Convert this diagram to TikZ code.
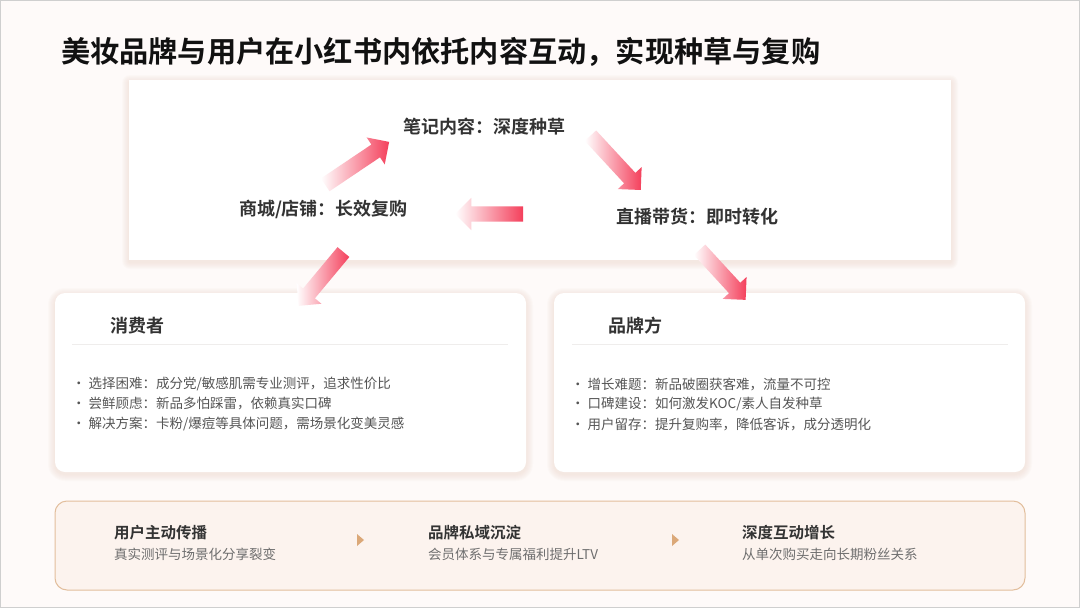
\documentclass[tikz,border=0pt]{standalone}
\usepackage{fontspec}
\setmainfont{Noto Sans CJK SC}[BoldFont={Noto Sans CJK SC Bold}]
\usetikzlibrary{shapes.arrows}

\definecolor{pagebg}{HTML}{FEFAF9}
\definecolor{framegray}{HTML}{CFCFCF}
\definecolor{arrowred}{HTML}{F43F5B}
\definecolor{titleblack}{HTML}{111111}
\definecolor{labelgray}{HTML}{333333}
\definecolor{textgray}{HTML}{555555}
\definecolor{subgray}{HTML}{6E6E6E}
\definecolor{rulegray}{HTML}{EFEDEC}
\definecolor{shadowtint}{HTML}{EBD3C7}
\definecolor{stripfill}{HTML}{FCF3EE}
\definecolor{stripline}{HTML}{E2BE9C}
\definecolor{steptan}{HTML}{DBA878}

% soft warm shadow under a panel: corners, rounding
\newcommand{\softshadow}[5]{%
	\foreach \g in {1,...,7}
		\fill [shadowtint, opacity=0.07, rounded corners=#5+\g] (#1-\g,#2-\g+2) rectangle (#3+\g,#4+\g+2);
}

\tikzset{
	flowarrow/.style={single arrow, inner xsep=0pt, inner ysep=7.5pt, minimum width=32pt, single arrow head extend=8.5pt, single arrow head indent=0pt, left color=white, right color=arrowred, draw=none},
	looplabel/.style={font=\fontsize{18}{22}\selectfont\bfseries, text=labelgray, inner sep=0pt},
	cardtitle/.style={font=\fontsize{18}{22}\selectfont\bfseries, text=labelgray, anchor=west, inner sep=0pt},
	bulletline/.style={font=\fontsize{13.5}{16}\selectfont, text=textgray, anchor=west, inner sep=0pt},
	steptitle/.style={font=\fontsize{15.5}{18}\selectfont\bfseries, text=labelgray, anchor=west, inner sep=0pt},
	stepnote/.style={font=\fontsize{13.5}{16}\selectfont, text=subgray, anchor=west, inner sep=0pt}
}

\begin{document}
\begin{tikzpicture}[x=1pt, y=-1pt]
		\useasboundingbox (0,0) rectangle (1080,608);
		% page background and frame
		\fill [pagebg] (0,0) rectangle (1080,608);
		\draw [framegray, line width=1.2pt] (0.6,0.6) rectangle (1079.4,607.4);

		% heading
		\node [anchor=west, inner sep=0pt, text=titleblack, font=\fontsize{29.2}{34}\selectfont\bfseries] (title) at (61,52) {美妆品牌与用户在小红书内依托内容互动，实现种草与复购};

		% top panel with the content loop
		\softshadow{129}{80}{951}{260}{1}
		\fill [white] (129,80) rectangle (951,260);
		\node [looplabel] (note) at (484.5,127) {笔记内容：深度种草};
		\node [looplabel] (shop) at (323.5,209) {商城/店铺：长效复购};
		\node [looplabel] (live) at (697.5,217) {直播带货：即时转化};

		% lower cards
		\softshadow{55}{293}{526}{472}{10}
		\softshadow{554}{293}{1025}{472}{10}
		\fill [white, rounded corners=10pt] (55,293) rectangle (526,472);
		\fill [white, rounded corners=10pt] (554,293) rectangle (1025,472);
		\node [cardtitle] (consumer) at (110,326) {消费者};
		\node [cardtitle] (brand) at (608,326) {品牌方};
		\draw [rulegray, line width=1pt] (72,344) -- (508,344);
		\draw [rulegray, line width=1pt] (572,344) -- (1008,344);

		\node [bulletline] (c1) at (72,384) {•\hspace{3pt}选择困难：成分党/敏感肌需专业测评，追求性价比};
		\node [bulletline] (c2) at (72,404) {•\hspace{3pt}尝鲜顾虑：新品多怕踩雷，依赖真实口碑};
		\node [bulletline] (c3) at (72,424) {•\hspace{3pt}解决方案：卡粉/爆痘等具体问题，需场景化变美灵感};
		\node [bulletline] (b1) at (571,384) {•\hspace{3pt}增长难题：新品破圈获客难，流量不可控};
		\node [bulletline] (b2) at (571,404) {•\hspace{3pt}口碑建设：如何激发KOC/素人自发种草};
		\node [bulletline] (b3) at (571,424) {•\hspace{3pt}用户留存：提升复购率，降低客诉，成分透明化};

		% gradient arrows of the loop
		\node [flowarrow, minimum height=77pt, rotate=33.9] (toNote) at (354,165.5) {};
		\node [flowarrow, minimum height=74pt, rotate=-47.2] (toLive) at (613,160) {};
		\node [flowarrow, minimum height=68pt, rotate=180] (toShop) at (493,214) {};
		\node [flowarrow, minimum height=70pt, rotate=230.2] (toConsumer) at (323.5,276) {};
		\node [flowarrow, minimum height=68pt, rotate=-47.4] (toBrand) at (720,272) {};

		% bottom strip with three stages
		\draw [stripline, fill=stripfill, line width=1pt, rounded corners=12pt] (55,501) rectangle (1025,590);
		\node [steptitle] (spread) at (114,533) {用户主动传播};
		\node [stepnote] (spreadNote) at (114,554) {真实测评与场景化分享裂变};
		\node [steptitle] (privateDomain) at (428,533) {品牌私域沉淀};
		\node [stepnote] (privateNote) at (428,554) {会员体系与专属福利提升LTV};
		\node [steptitle] (deepGrowth) at (742,533) {深度互动增长};
		\node [stepnote] (deepNote) at (742,554) {从单次购买走向长期粉丝关系};
		\fill [steptan] (357,534) -- (364,540) -- (357,546) -- cycle;
		\fill [steptan] (672,534) -- (679,540) -- (672,546) -- cycle;
	\end{tikzpicture}
\end{document}
